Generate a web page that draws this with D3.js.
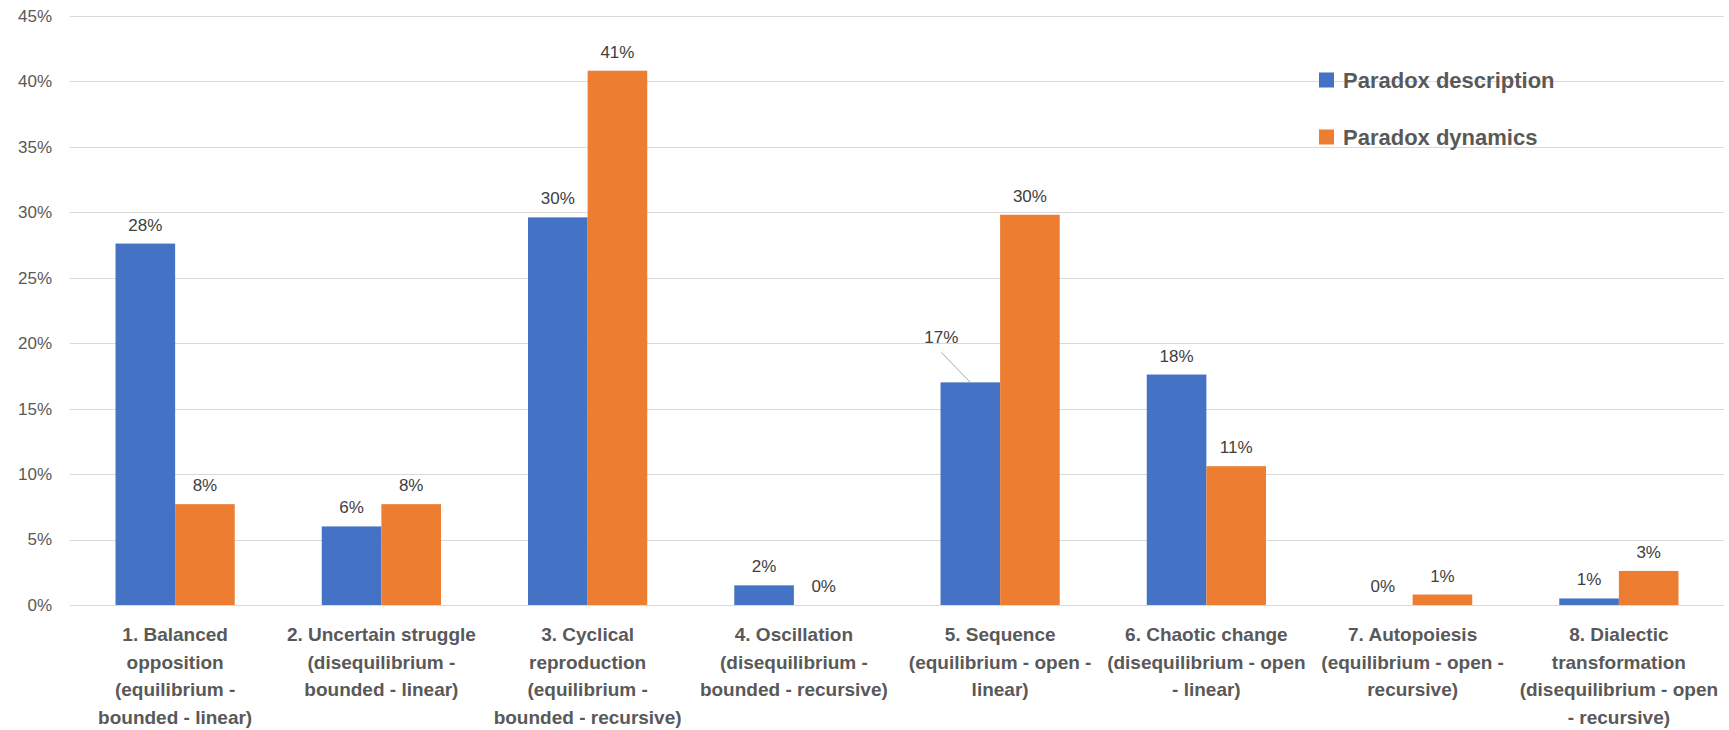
<!DOCTYPE html>
<html><head><meta charset="utf-8">
<script src="https://cdn.jsdelivr.net/npm/d3@7"></script>
<style>body{margin:0;background:#fff;}svg{display:block;font-family:"Liberation Sans",Arial,sans-serif;}</style>
</head><body><svg id="c" width="1729" height="730"></svg>
<script>
const categories = [
  "1. Balanced\nopposition\n(equilibrium -\nbounded - linear)",
  "2. Uncertain struggle\n(disequilibrium -\nbounded - linear)",
  "3. Cyclical\nreproduction\n(equilibrium -\nbounded - recursive)",
  "4. Oscillation\n(disequilibrium -\nbounded - recursive)",
  "5. Sequence\n(equilibrium - open -\nlinear)",
  "6. Chaotic change\n(disequilibrium - open\n- linear)",
  "7. Autopoiesis\n(equilibrium - open -\nrecursive)",
  "8. Dialectic\ntransformation\n(disequilibrium - open\n- recursive)"
];
const seriesNames = ["Paradox description", "Paradox dynamics"];
const description = [27.6, 6.0, 29.6, 1.5, 17.0, 17.6, 0.0, 0.5];
const dynamics = [7.7, 7.7, 40.8, 0.0, 29.8, 10.6, 0.8, 2.6];
const yTicks = [0, 5, 10, 15, 20, 25, 30, 35, 40, 45];
const colors = ["#4472C4", "#ED7D31"];

(function() {
const svg = d3.select("#c");
const mLeft = 72, mRight = 1722, mTop = 15.7, mBottom = 605;
const x = d3.scaleBand().domain(categories).range([mLeft, mRight]).paddingInner(0).paddingOuter(0);
const xs = d3.scaleBand().domain(seriesNames).range([0, x.bandwidth()]).paddingInner(0).paddingOuter(0.73);
const y = d3.scaleLinear().domain([0, 45]).range([mBottom, mTop]);

// gridlines
svg.append("g").selectAll("line").data(yTicks).join("line")
  .attr("x1", 70).attr("x2", 1724)
  .attr("y1", d => Math.round(y(d)) + 0.5).attr("y2", d => Math.round(y(d)) + 0.5)
  .attr("stroke", "#d9d9d9").attr("stroke-width", 1);

// y axis labels
const yAxis = d3.axisLeft(y).tickValues(yTicks).tickFormat(d => d + "%").tickSize(0).tickPadding(0);
const yg = svg.append("g").attr("transform", "translate(52,0)").call(yAxis);
yg.select(".domain").remove();
yg.selectAll("text").attr("font-size", 17).attr("fill", "#595959").attr("font-family", "Liberation Sans, Arial, sans-serif");

// bars
const data = categories.map((c, i) => ({c, vals: [description[i], dynamics[i]]}));
const groups = svg.append("g").selectAll("g").data(data).join("g")
  .attr("transform", d => `translate(${x(d.c)},0)`);
groups.selectAll("rect").data(d => d.vals.map((v, k) => ({v, k}))).join("rect")
  .attr("x", d => xs(seriesNames[d.k]))
  .attr("width", xs.bandwidth())
  .attr("y", d => y(d.v))
  .attr("height", d => y(0) - y(d.v))
  .attr("fill", d => colors[d.k]);

// data labels
groups.each(function(d, i) {
  const g = d3.select(this);
  d.vals.forEach((v, k) => {
    const cx = xs(seriesNames[k]) + xs.bandwidth() / 2;
    let tx = cx, ty = y(v) - 13;
    if (i === 4 && k === 0) {
      g.append("line").attr("x1", cx - 29).attr("y1", y(v) - 30).attr("x2", cx).attr("y2", y(v))
        .attr("stroke", "#a6a6a6").attr("stroke-width", 1);
      ty = y(v) - 39;
      tx = cx - 29;
    }
    g.append("text").attr("x", tx).attr("y", ty)
      .attr("text-anchor", "middle").attr("font-size", 17).attr("fill", "#404040")
      .text(Math.round(v) + "%");
  });
});

// category labels
const xg = svg.append("g");
categories.forEach(c => {
  const lines = c.split("\n");
  const t = xg.append("text").attr("text-anchor", "middle")
    .attr("font-size", 19).attr("font-weight", "bold").attr("fill", "#595959");
  lines.forEach((ln, j) => {
    t.append("tspan").attr("x", x(c) + x.bandwidth() / 2).attr("y", 641 + j * 27.7).text(ln);
  });
});

// legend
const legY = [80, 137];
const lg = svg.append("g");
seriesNames.forEach((s, k) => {
  lg.append("rect").attr("x", 1319).attr("y", legY[k] - 7.5).attr("width", 15).attr("height", 15).attr("fill", colors[k]);
  lg.append("text").attr("x", 1343).attr("y", legY[k] + 8).attr("font-size", 22).attr("font-weight", "bold")
    .attr("fill", "#595959").text(s);
});
})();
</script></body></html>
